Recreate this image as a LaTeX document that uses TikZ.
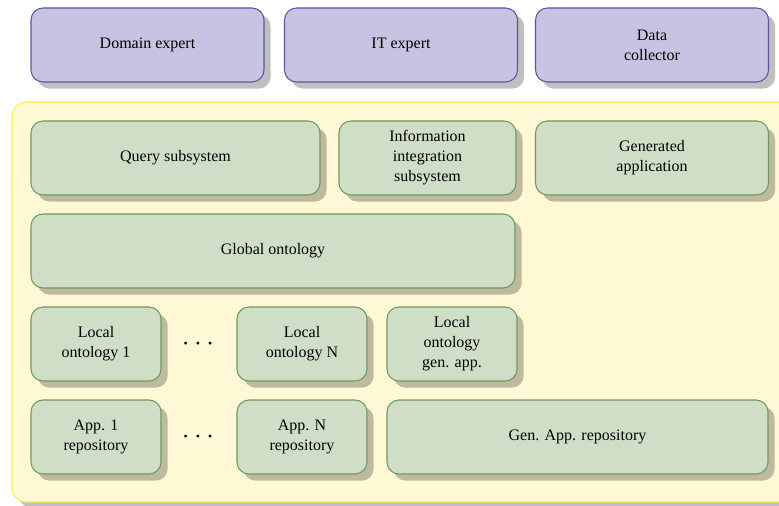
\documentclass[tikz,border=0pt]{standalone}
\usepackage{fontspec}
\setmainfont{Liberation Serif}
\usetikzlibrary{shadows}

\definecolor{actorfill}{HTML}{C6C4E2}
\definecolor{actordraw}{HTML}{5457A6}
\definecolor{modulefill}{HTML}{D0DEC8}
\definecolor{moduledraw}{HTML}{6B9A5C}
\definecolor{platformfill}{HTML}{FFF8D4}
\definecolor{platformdraw}{HTML}{FFEE3A}

\begin{document}
\begin{tikzpicture}[x=.75pt, y=-.75pt]
        \tikzset{
  every box/.style={
    rectangle,
    rounded corners=9pt,
    line width=.8pt,
    minimum height=55.5pt,
    align=center,
    font=\fontsize{12}{15}\selectfont,
    drop shadow={shadow xshift=5pt, shadow yshift=-5pt, fill=black, opacity=.25}
  },
  actor/.style={
    every box,
    draw=actordraw,
    fill=actorfill,
    minimum width=174.75pt
  },
  module/.style={
    every box,
    draw=moduledraw,
    fill=modulefill
  },
  small module/.style={
    module,
    minimum width=97.5pt
  },
  platform/.style={
    draw=platformdraw,
    fill=platformfill,
    line width=.8pt,
    rounded corners=11pt,
    drop shadow={shadow xshift=5pt, shadow yshift=-5pt, fill=black, opacity=.25}
  },
  more/.style={
    font=\fontsize{21}{24}\selectfont
  }
}

\useasboundingbox (0,0) rectangle (779,506);

% users of the platform
\foreach \n/\x/\t in {domain/147.5/Domain expert, it/401/IT expert, data/652/Data\\collector}
  \node [actor] (actor-\n) at (\x,45) {\t};

% the platform itself
\path [platform] (12,102) rectangle (810,502);

\node [module, minimum width=216.75pt] (query) at (175.5,158) {Query subsystem};
\node [module, minimum width=132.75pt] (integration) at (427.5,158) {Information\\integration\\subsystem};
\node [module, minimum width=174.75pt] (genapp) at (652,158) {Generated\\application};

\node [module, minimum width=363pt] (global) at (273,251) {Global ontology};

\foreach \n/\x/\t in {1/96/Local\\ontology 1, N/302/Local\\ontology N, gen/452/Local\\ontology\\gen. app.}
  \node [small module] (local-\n) at (\x,344) {\t};

\foreach \n/\x/\t in {1/96/App. 1\\repository, N/302/App. N\\repository}
  \node [small module] (repo-\n) at (\x,437) {\t};
\node [module, minimum width=285.75pt] (repo-gen) at (577.5,437) {Gen. App. repository};

% \foreach \r in {local,repo} ...
\node [more] (dots-local) at (198,344) {$\cdots$};
\node [more] (dots-repo) at (198,437) {$\cdots$};
      \end{tikzpicture}
\end{document}
